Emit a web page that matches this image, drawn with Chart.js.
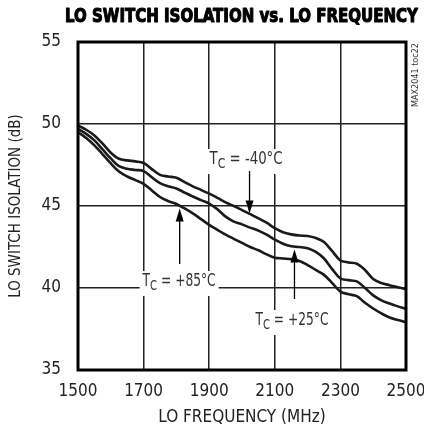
<!DOCTYPE html>
<html><head><meta charset="utf-8">
<script src="https://cdn.jsdelivr.net/npm/chart.js@4.4.1/dist/chart.umd.min.js"></script>
<style>html,body{margin:0;padding:0;background:#fff}#wrap{width:424px;height:433px;position:relative}</style>
</head><body><div id="wrap"><canvas id="c" width="424" height="433"></canvas></div>
<script>
const frequencies = [1500,1525,1550,1575,1600,1625,1650,1675,1700,1725,1750,1775,1800,1825,1850,1875,1900,1925,1950,1975,2000,2025,2050,2075,2100,2125,2150,2175,2200,2225,2250,2275,2300,2325,2350,2375,2400,2425,2450,2475,2500];
const isoMinus40 = [49.9,49.65,49.3,48.8,48.25,47.88,47.78,47.72,47.62,47.25,46.9,46.8,46.72,46.45,46.2,45.98,45.75,45.5,45.22,45.0,44.75,44.5,44.25,43.98,43.65,43.4,43.27,43.2,43.17,43.05,42.8,42.25,41.68,41.56,41.48,41.1,40.55,40.3,40.17,40.05,39.92];
const isoPlus25 = [49.7,49.4,49.0,48.45,47.9,47.43,47.27,47.2,47.13,46.75,46.4,46.2,46.07,45.82,45.58,45.36,45.15,44.8,44.35,44.05,43.88,43.68,43.5,43.25,42.95,42.7,42.55,42.5,42.42,42.2,41.8,41.15,40.58,40.48,40.4,40.0,39.55,39.25,39.05,38.88,38.72];
const isoPlus85 = [49.5,49.15,48.7,48.15,47.6,47.1,46.8,46.58,46.35,45.95,45.55,45.3,45.12,44.85,44.55,44.2,43.85,43.55,43.25,43.0,42.75,42.5,42.3,42.05,41.85,41.8,41.76,41.65,41.4,41.1,40.8,40.3,39.78,39.62,39.5,39.1,38.75,38.45,38.2,38.05,37.92];
const xTickValues = [1500,1700,1900,2100,2300,2500];
const yTickValues = [35,40,45,50,55];
const tempLabels = ['-40°C','+25°C','+85°C'];

const FONT = "'Liberation Sans Narrow','Arial Narrow','DejaVu Sans Condensed',sans-serif";

function toPts(ys){ return frequencies.map((f,i)=>({x:f,y:ys[i]})); }

const annotations = [
  {suffix: tempLabels[0], label:[1901,47.56], from:[2023,47.13], to:[2023,44.55]},
  {suffix: tempLabels[2], label:[1697,40.12], from:[1810,41.46], to:[1810,44.85]},
  {suffix: tempLabels[1], label:[2041,37.74], from:[2160,39.33], to:[2160,42.35]}
];

function tcLabel(ctx, x, y, suffix, targetW){
  const main = '17px ' + FONT, sub = '14px ' + FONT;
  ctx.font = main; const wT = ctx.measureText('T').width;
  ctx.font = sub; const wC = ctx.measureText('C').width;
  ctx.font = main; const wR = ctx.measureText(' = ' + suffix).width;
  const w = wT + wC + wR;
  const s = targetW / w;
  ctx.save();
  ctx.translate(x, y); ctx.scale(s, 1);
  ctx.fillStyle = '#333'; ctx.textBaseline = 'alphabetic'; ctx.textAlign = 'left';
  ctx.font = main; ctx.fillText('T', 0, 0);
  ctx.font = sub; ctx.fillText('C', wT, 3.5);
  ctx.font = main; ctx.fillText(' = ' + suffix, wT + wC, 0);
  ctx.restore();
}

const decor = {
  id: 'decor',
  beforeDatasetsDraw(chart){
    const {ctx, scales:{x, y}} = chart;
    ctx.save(); ctx.fillStyle = '#fff';
    annotations.forEach(a => {
      const px = x.getPixelForValue(a.label[0]), py = y.getPixelForValue(a.label[1]);
      ctx.fillRect(px - 3, py - 15, 79, 25);
    });
    ctx.restore();
    annotations.forEach(a => {
      const px = x.getPixelForValue(a.label[0]), py = y.getPixelForValue(a.label[1]);
      tcLabel(ctx, px, py, a.suffix, 73);
    });
  },
  afterDatasetsDraw(chart){
    const {ctx, scales:{x, y}, chartArea:ca} = chart;
    ctx.save();
    ctx.strokeStyle = '#000'; ctx.fillStyle = '#000'; ctx.lineWidth = 1.3;
    annotations.forEach(a => {
      const ax = x.getPixelForValue(a.from[0]);
      const y0 = y.getPixelForValue(a.from[1]), y1 = y.getPixelForValue(a.to[1]);
      const dir = Math.sign(y1 - y0);
      ctx.beginPath(); ctx.moveTo(ax, y0); ctx.lineTo(ax, y1 - dir*10); ctx.stroke();
      ctx.beginPath(); ctx.moveTo(ax, y1); ctx.lineTo(ax - 4, y1 - dir*13); ctx.lineTo(ax + 4, y1 - dir*13); ctx.closePath(); ctx.fill();
    });
    ctx.lineWidth = 3; ctx.strokeStyle = '#000';
    ctx.strokeRect(ca.left, ca.top, ca.right - ca.left, ca.bottom - ca.top);
    ctx.restore();
  },
  afterDraw(chart){
    const {ctx} = chart;
    ctx.save();
    ctx.fillStyle = '#000';
    ctx.font = 'bold 20px ' + FONT;
    ctx.textBaseline = 'alphabetic'; ctx.textAlign = 'left';
    const t = 'LO SWITCH ISOLATION vs. LO FREQUENCY';
    const w = ctx.measureText(t).width;
    ctx.translate(65, 21.7); ctx.scale(353 / w, 1);
    ctx.fillText(t, 0, 0);
    ctx.lineWidth = 1.1; ctx.lineJoin = 'round'; ctx.strokeStyle = '#000'; ctx.strokeText(t, 0, 0);
    ctx.restore();
    ctx.save();
    ctx.fillStyle = '#333';
    ctx.font = '9px ' + FONT;
    ctx.textBaseline = 'middle'; ctx.textAlign = 'left';
    const m = 'MAX2041 toc22';
    const mw = ctx.measureText(m).width;
    ctx.translate(416, 107); ctx.rotate(-Math.PI/2); ctx.scale(64 / mw, 1);
    ctx.fillText(m, 0, 0);
    ctx.restore();
  }
};

const lineStyle = {borderColor:'#1a1a1a', borderWidth:2.6, pointRadius:0, tension:0.35, fill:false};

new Chart(document.getElementById('c'), {
  type: 'line',
  data: {
    datasets: [
      Object.assign({label:'TC = ' + tempLabels[0], data: toPts(isoMinus40)}, lineStyle),
      Object.assign({label:'TC = ' + tempLabels[1], data: toPts(isoPlus25)}, lineStyle),
      Object.assign({label:'TC = ' + tempLabels[2], data: toPts(isoPlus85)}, lineStyle)
    ]
  },
  options: {
    responsive: false, animation: false, devicePixelRatio: 1,
    layout: {padding: {top: 42, right: 18, bottom: 0, left: 0}},
    plugins: {legend: {display: false}, tooltip: {enabled: false}, title: {display: false}},
    scales: {
      x: {
        type: 'linear', min: 1500, max: 2500,
        afterFit(s){ s.height = 63; s.paddingLeft = 0; s.paddingRight = 0; },
        afterBuildTicks(s){ s.ticks = xTickValues.map(v => ({value: v})); },
        grid: {color: '#222', lineWidth: 1.5, drawTicks: false},
        border: {display: false},
        ticks: {padding: 11, color: '#222', font: {family: FONT, size: 17}, maxRotation: 0, autoSkip: false, callback: v => String(v)},
        title: {display: true, text: 'LO FREQUENCY (MHz)', color: '#222', font: {family: FONT, size: 17}, padding: {top: 0, bottom: 5}}
      },
      y: {
        type: 'linear', min: 35, max: 55,
        afterFit(s){ s.width = 78; s.paddingTop = 0; s.paddingBottom = 0; },
        afterBuildTicks(s){ s.ticks = yTickValues.map(v => ({value: v})); },
        grid: {color: '#222', lineWidth: 1.5, drawTicks: false},
        border: {display: false},
        ticks: {padding: 17, color: '#222', font: {family: FONT, size: 17}, callback: v => String(v)},
        title: {display: true, text: 'LO SWITCH ISOLATION (dB)', color: '#222', font: {family: FONT, size: 15}, padding: {top: 7, bottom: 0}}
      }
    }
  },
  plugins: [decor]
});
</script></body></html>
